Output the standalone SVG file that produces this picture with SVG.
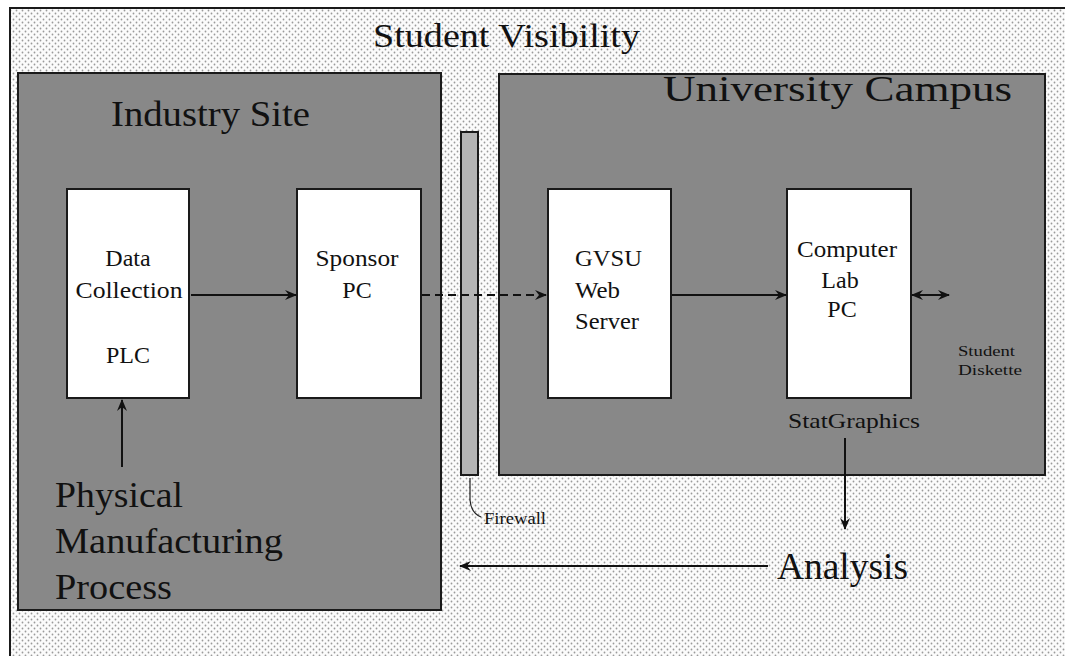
<svg xmlns="http://www.w3.org/2000/svg" width="1065" height="656" viewBox="0 0 1065 656">
<defs>
<pattern id="dots" width="6" height="6" patternUnits="userSpaceOnUse">
<rect width="6" height="6" fill="#fbfbfb"/>
<circle cx="1.5" cy="1.5" r="0.9" fill="#9a9a9a"/>
<circle cx="4.5" cy="4.5" r="0.9" fill="#9a9a9a"/>
</pattern>
<marker id="ah" viewBox="0 0 12 10" refX="11" refY="5" markerWidth="12" markerHeight="10" markerUnits="userSpaceOnUse" orient="auto-start-reverse">
<path d="M0,0 L12,5 L0,10 L4,5 z" fill="#111"/>
</marker>
</defs>
<style>
.region{fill:#888888;stroke:#1a1a1a;stroke-width:2}
.box{fill:#ffffff;stroke:#1a1a1a;stroke-width:2}
.t{font-family:"Liberation Serif","Times New Roman",serif;fill:#111}
.conn{stroke:#111;stroke-width:2;fill:none}
</style>
<rect width="1065" height="656" fill="#ffffff"/>
<rect x="10" y="8" width="1070" height="660" fill="url(#dots)" stroke="#1a1a1a" stroke-width="2"/>
<text class="t" x="373" y="47" font-size="34" textLength="267" lengthAdjust="spacingAndGlyphs">Student Visibility</text>

<g id="industry-site">
<rect class="region" x="18" y="73" width="423" height="537"/>
<text class="t" x="111" y="126" font-size="35" textLength="199" lengthAdjust="spacingAndGlyphs">Industry Site</text>
</g>
<g id="university-campus">
<rect class="region" x="499" y="74" width="546" height="401"/>
<text class="t" x="663" y="101" font-size="35" textLength="349" lengthAdjust="spacingAndGlyphs">University Campus</text>
</g>
<g id="firewall">
<rect x="461" y="132" width="17" height="343" fill="#b4b4b4" stroke="#1a1a1a" stroke-width="2"/>
<path d="M470,478 L470,500 Q471,513 481,517" fill="none" stroke="#222" stroke-width="1.2"/>
<text class="t" x="484" y="524" font-size="17" textLength="62" lengthAdjust="spacingAndGlyphs">Firewall</text>
</g>
<g id="data-collection">
<rect class="box" x="67" y="189" width="122" height="209"/>
<text class="t" x="128" y="266" font-size="24" text-anchor="middle">Data</text>
<text class="t" x="129" y="298" font-size="24" text-anchor="middle" textLength="107" lengthAdjust="spacingAndGlyphs">Collection</text>
<text class="t" x="128" y="363" font-size="24" text-anchor="middle">PLC</text>
</g>
<g id="sponsor-pc">
<rect class="box" x="297" y="189" width="124" height="209"/>
<text class="t" x="357" y="266" font-size="24" text-anchor="middle" textLength="83" lengthAdjust="spacingAndGlyphs">Sponsor</text>
<text class="t" x="357" y="298" font-size="24" text-anchor="middle">PC</text>
</g>
<g id="gvsu-web-server">
<rect class="box" x="548" y="189" width="123" height="209"/>
<text class="t" x="575" y="266" font-size="24" textLength="67" lengthAdjust="spacingAndGlyphs">GVSU</text>
<text class="t" x="575" y="298" font-size="24" textLength="45" lengthAdjust="spacingAndGlyphs">Web</text>
<text class="t" x="575" y="329" font-size="24" textLength="64" lengthAdjust="spacingAndGlyphs">Server</text>
</g>
<g id="computer-lab-pc">
<rect class="box" x="787" y="189" width="124" height="209"/>
<text class="t" x="797" y="257" font-size="24" textLength="100" lengthAdjust="spacingAndGlyphs">Computer</text>
<text class="t" x="840" y="288" font-size="24" text-anchor="middle">Lab</text>
<text class="t" x="842" y="317" font-size="24" text-anchor="middle">PC</text>
<text class="t" x="788" y="428" font-size="22" textLength="132" lengthAdjust="spacingAndGlyphs">StatGraphics</text>
</g>
<g id="student-diskette">
<text class="t" x="958" y="356" font-size="14" textLength="57" lengthAdjust="spacingAndGlyphs">Student</text>
<text class="t" x="958" y="375" font-size="14" textLength="64" lengthAdjust="spacingAndGlyphs">Diskette</text>
</g>
<g id="physical-process">
<text class="t" x="55" y="507" font-size="36" textLength="128" lengthAdjust="spacingAndGlyphs">Physical</text>
<text class="t" x="55" y="553" font-size="36" textLength="228" lengthAdjust="spacingAndGlyphs">Manufacturing</text>
<text class="t" x="55" y="599" font-size="36" textLength="117" lengthAdjust="spacingAndGlyphs">Process</text>
</g>
<g id="analysis">
<text class="t" x="777" y="579" font-size="37" textLength="131" lengthAdjust="spacingAndGlyphs">Analysis</text>
</g>
<g id="connectors">
<line class="conn" x1="122" y1="467" x2="122" y2="400" marker-end="url(#ah)"/>
<line class="conn" x1="191" y1="295" x2="296" y2="295" marker-end="url(#ah)"/>
<line class="conn" x1="422" y1="295" x2="546" y2="295" stroke-dasharray="8,5" marker-end="url(#ah)"/>
<line class="conn" x1="672" y1="295" x2="786" y2="295" marker-end="url(#ah)"/>
<line class="conn" x1="912" y1="295" x2="949" y2="295" marker-start="url(#ah)" marker-end="url(#ah)"/>
<line class="conn" x1="845" y1="438" x2="845" y2="529" marker-end="url(#ah)"/>
<line class="conn" x1="768" y1="566" x2="460" y2="566" marker-end="url(#ah)"/>
</g>
</svg>
